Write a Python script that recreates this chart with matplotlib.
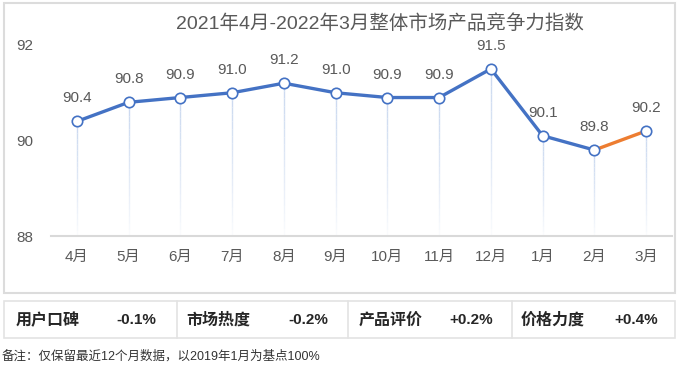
import matplotlib
matplotlib.use("Agg")
import matplotlib.pyplot as plt
from matplotlib.patches import Rectangle
import numpy as np

plt.rcParams['font.family'] = ['Liberation Sans', 'Noto Sans CJK SC', 'DejaVu Sans']

months = ['4月', '5月', '6月', '7月', '8月', '9月', '10月', '11月', '12月', '1月', '2月', '3月']
values = [90.4, 90.8, 90.9, 91.0, 91.2, 91.0, 90.9, 90.9, 91.5, 90.1, 89.8, 90.2]
yticks = [88, 90, 92]
title = '2021年4月-2022年3月整体市场产品竞争力指数'
table_names = ['用户口碑', '市场热度', '产品评价', '价格力度']
table_vals = ['-0.1%', '-0.2%', '+0.2%', '+0.4%']
note = '备注：仅保留最近12个月数据，以2019年1月为基点100%'

W, H = 677, 369
fig = plt.figure(figsize=(W / 100, H / 100), dpi=100)

def fx(px):
    return px / W

def fy(py):
    return 1 - py / H

# outer chart box and table frame
border = '#dcdcdc'
fig.patches.append(Rectangle((fx(4), fy(293)), fx(675) - fx(4), fy(3) - fy(293),
                             transform=fig.transFigure, fill=False, ec=border, lw=1.5))
fig.patches.append(Rectangle((fx(4), fy(338)), fx(675) - fx(4), fy(301) - fy(338),
                             transform=fig.transFigure, fill=False, ec='#e3e3e3', lw=1.2))
for xd in [177, 348, 512]:
    fig.add_artist(plt.Line2D([fx(xd), fx(xd)], [fy(338), fy(301)],
                              transform=fig.transFigure, color='#e3e3e3', lw=1.2))

ax = fig.add_axes([fx(51), fy(236), fx(672) - fx(51), fy(45) - fy(236)])
x = np.arange(len(values))
ax.set_xlim(-0.5, len(values) - 0.5)
ax.set_ylim(88, 92)

# fading drop lines
nseg = 20
for xi, v in zip(x, values):
    ys = np.linspace(v, 88, nseg + 1)
    for k in range(nseg):
        a = 0.9 * (1 - k / nseg) ** 0.8
        ax.plot([xi, xi], [ys[k], ys[k + 1]], color='#c5d5ee', lw=1.0, alpha=a,
                solid_capstyle='butt', zorder=1)

blue = '#4472C4'
orange = '#ED7D31'
ax.plot(x[:-1], values[:-1], color=blue, lw=2.4, zorder=3, solid_capstyle='round')
ax.plot(x[-2:], values[-2:], color=orange, lw=2.4, zorder=3, solid_capstyle='round')
ax.plot(x, values, linestyle='none', marker='o', ms=7.5, mfc='white', mec=blue, mew=1.2, zorder=4)

for xi, v in zip(x, values):
    ax.annotate(f'{v:.1f}', (xi, v), xytext=(0, 16.5), textcoords='offset points',
                ha='center', va='center', fontsize=11, color='#595959')

for s in ['top', 'right', 'left']:
    ax.spines[s].set_visible(False)
ax.spines['bottom'].set_color('#d9d9d9')
ax.spines['bottom'].set_linewidth(1.5)
ax.set_yticks(yticks)
ax.set_yticklabels([str(t) for t in yticks])
ax.set_xticks(x)
ax.set_xticklabels(months)
ax.tick_params(axis='y', length=0, pad=13, labelsize=11, labelcolor='#595959')
ax.tick_params(axis='x', length=0, pad=10, labelsize=11, labelcolor='#595959')

fig.text(fx(380), fy(24), title, ha='center', va='center', fontsize=14, color='#595959')

name_x = [16, 186, 359, 521]
val_x = [136, 308, 471, 636]
for nx, vx, n, v in zip(name_x, val_x, table_names, table_vals):
    fig.text(fx(nx), fy(320), n, ha='left', va='center', fontsize=11.5,
             color='#262626', fontweight='semibold')
    fig.text(fx(vx), fy(320), v, ha='center', va='center', fontsize=11,
             color='#262626', fontweight='semibold')

fig.text(fx(2), fy(356), note, ha='left', va='center', fontsize=9, color='#333333')

fig.savefig('out.png', dpi=100)
